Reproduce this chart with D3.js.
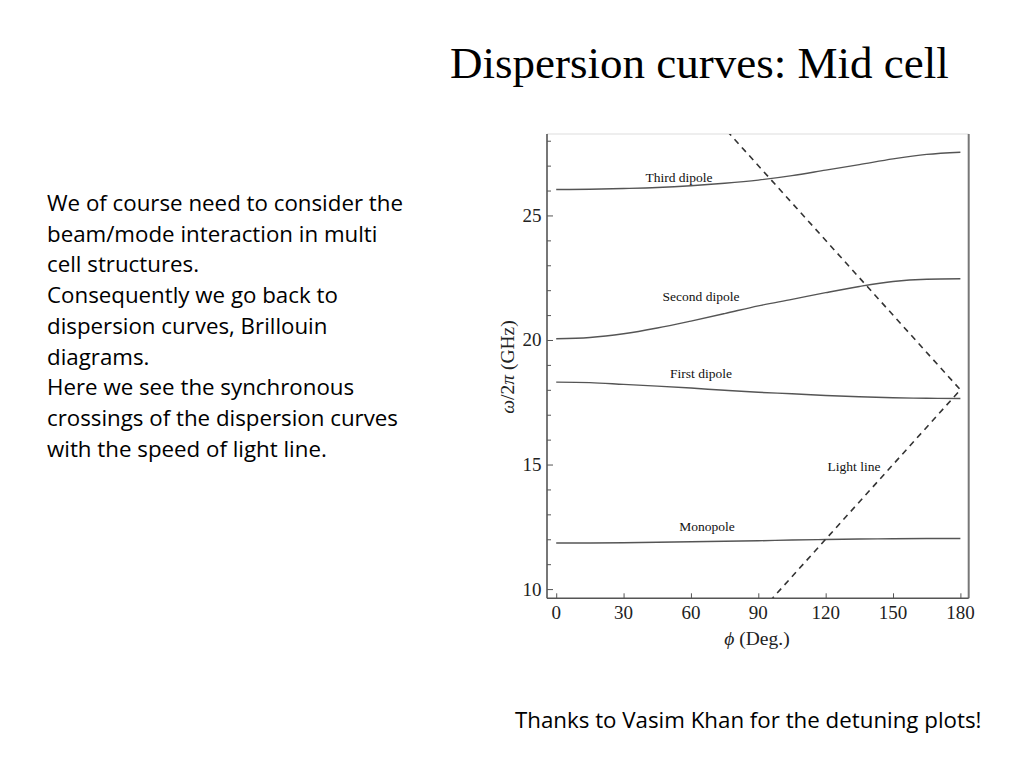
<!DOCTYPE html>
<html><head><meta charset="utf-8">
<script src="https://cdn.jsdelivr.net/npm/d3@7"></script>
<style>body{margin:0;background:#fff}svg{display:block}</style>
</head><body>
<svg id="c" width="1024" height="768"></svg>
<script>
// ---- data ----
const phi        = [0, 15, 30, 45, 60, 75, 90, 105, 120, 135, 150, 165, 180];
const monopole   = [11.85, 11.85, 11.86, 11.88, 11.90, 11.92, 11.94, 11.97, 11.99, 12.01, 12.02, 12.03, 12.03];
const firstDip   = [18.31, 18.29, 18.22, 18.15, 18.07, 17.98, 17.90, 17.84, 17.77, 17.72, 17.68, 17.66, 17.65];
const secondDip  = [20.05, 20.10, 20.25, 20.48, 20.76, 21.06, 21.37, 21.63, 21.90, 22.15, 22.35, 22.44, 22.46];
const thirdDip   = [26.04, 26.05, 26.08, 26.12, 26.19, 26.29, 26.42, 26.60, 26.82, 27.04, 27.27, 27.45, 27.54];
const lightPhi   = [0, 180, 0];
const lightFreq  = [0, 18, 36];
const xTicks     = [0, 30, 60, 90, 120, 150, 180];
const yTicks     = [10, 15, 20, 25];
const curveNames = ["Third dipole", "Second dipole", "First dipole", "Light line", "Monopole"];
const labelPhi   = [54.7, 64.5, 64.5, 132.6, 67.2];
const labelFreq  = [26.34, 21.56, 18.47, 14.74, 12.33];
const titleText  = "Dispersion curves: Mid cell";
const bodyLines  = ["We of course need to consider the","beam/mode interaction in multi","cell structures.","Consequently we go back to","dispersion curves, Brillouin","diagrams.","Here we see the synchronous","crossings of the dispersion curves","with the speed of light line."];
const footerText = "Thanks to Vasim Khan for the detuning plots!";

// ---- drawing ----
const svg = d3.select("#c");
const x = d3.scaleLinear([-4.1, 183.7], [547, 968.7]);
const y = d3.scaleLinear([9.63, 28.27], [598.3, 134]);

// title
svg.append("text").attr("x", 450).attr("y", 78)
  .attr("font-family", "'Liberation Serif','Times New Roman',serif").attr("font-size", 45)
  .attr("fill", "#000").text(titleText);

// body text
const sans = "'Open Sans',Lato,sans-serif";
const body = svg.append("g").attr("font-family", sans).attr("font-size", 22.3).attr("fill", "#000");
bodyLines.forEach((t, i) => body.append("text").attr("x", 47).attr("y", 211 + i * 30.7).text(t));

svg.append("text").attr("x", 515).attr("y", 728)
  .attr("font-family", sans).attr("font-size", 22.3).attr("fill", "#000").text(footerText);

// frame
const [x0, x1] = x.range(), [y0, y1] = y.range();
svg.append("line").attr("x1", x0).attr("x2", x1).attr("y1", y1).attr("y2", y1).attr("stroke", "#ddd").attr("stroke-width", 1);
svg.append("line").attr("x1", x1).attr("x2", x1).attr("y1", y1).attr("y2", y0).attr("stroke", "#777").attr("stroke-width", 2);

// clip
svg.append("clipPath").attr("id", "clip").append("rect")
  .attr("x", x0).attr("y", y1).attr("width", x1 - x0).attr("height", y0 - y1);

const plot = svg.append("g").attr("clip-path", "url(#clip)");
const line = d3.line().x(d => x(d[0])).y(d => y(d[1])).curve(d3.curveMonotoneX);
[monopole, firstDip, secondDip, thirdDip].forEach(s => {
  plot.append("path").datum(phi.map((p, i) => [p, s[i]])).attr("d", line)
    .attr("fill", "none").attr("stroke", "#555").attr("stroke-width", 1.4);
});
plot.append("path").datum(lightPhi.map((p, i) => [p, lightFreq[i]]))
  .attr("d", d3.line().x(d => x(d[0])).y(d => y(d[1])))
  .attr("fill", "none").attr("stroke", "#333").attr("stroke-width", 1.6).attr("stroke-dasharray", "6,5");

// axes
const axStroke = "#555";
const yAxis = svg.append("g").attr("transform", `translate(${x0},0)`)
  .call(d3.axisRight(y).tickValues(yTicks).tickSize(6).tickFormat(""));
yAxis.selectAll("line").attr("stroke", axStroke);
yAxis.select(".domain").remove();
const yMinor = svg.append("g").attr("transform", `translate(${x0},0)`)
  .call(d3.axisRight(y).tickValues(d3.range(10, 29).filter(v => v % 5 !== 0)).tickSize(4).tickFormat(""));
yMinor.selectAll("line").attr("stroke", axStroke);
yMinor.select(".domain").remove();

const xAxis = svg.append("g").attr("transform", `translate(0,${y0})`)
  .call(d3.axisTop(x).tickValues(xTicks).tickSize(5).tickFormat(""));
xAxis.selectAll("line").attr("stroke", axStroke);
xAxis.select(".domain").remove();

svg.append("line").attr("x1", x0).attr("x2", x0).attr("y1", y1).attr("y2", y0).attr("stroke", axStroke).attr("stroke-width", 1.6);
svg.append("line").attr("x1", x0).attr("x2", x1).attr("y1", y0).attr("y2", y0).attr("stroke", axStroke).attr("stroke-width", 1.6);

// tick labels
const serif = "'Liberation Serif','Times New Roman',serif";
svg.append("g").selectAll("text").data(yTicks).join("text")
  .attr("x", 541.5).attr("y", d => y(d) + 6.5).attr("text-anchor", "end")
  .attr("font-family", serif).attr("font-size", 19).attr("fill", "#222").text(d => d);
svg.append("g").selectAll("text").data(xTicks).join("text")
  .attr("x", d => x(d)).attr("y", 619).attr("text-anchor", "middle")
  .attr("font-family", serif).attr("font-size", 19).attr("fill", "#222").text(d => d);

// axis titles
const yl = svg.append("text").attr("transform", "translate(514,367) rotate(-90)").attr("text-anchor", "middle")
  .attr("font-family", serif).attr("font-size", 19.5).attr("fill", "#222");
yl.append("tspan").attr("font-style", "italic").text("ω");
yl.append("tspan").text("/2");
yl.append("tspan").attr("font-style", "italic").text("π");
yl.append("tspan").text(" (GHz)");

const xl = svg.append("text").attr("x", 757).attr("y", 645).attr("text-anchor", "middle")
  .attr("font-family", serif).attr("font-size", 19.5).attr("fill", "#222");
xl.append("tspan").attr("font-style", "italic").text("ϕ");
xl.append("tspan").text(" (Deg.)");

// curve labels
svg.append("g").selectAll("text").data(curveNames).join("text")
  .attr("x", (d, i) => x(labelPhi[i])).attr("y", (d, i) => y(labelFreq[i]))
  .attr("text-anchor", "middle").attr("font-family", serif).attr("font-size", 13.5).attr("fill", "#111")
  .text(d => d);
</script>
</body></html>
